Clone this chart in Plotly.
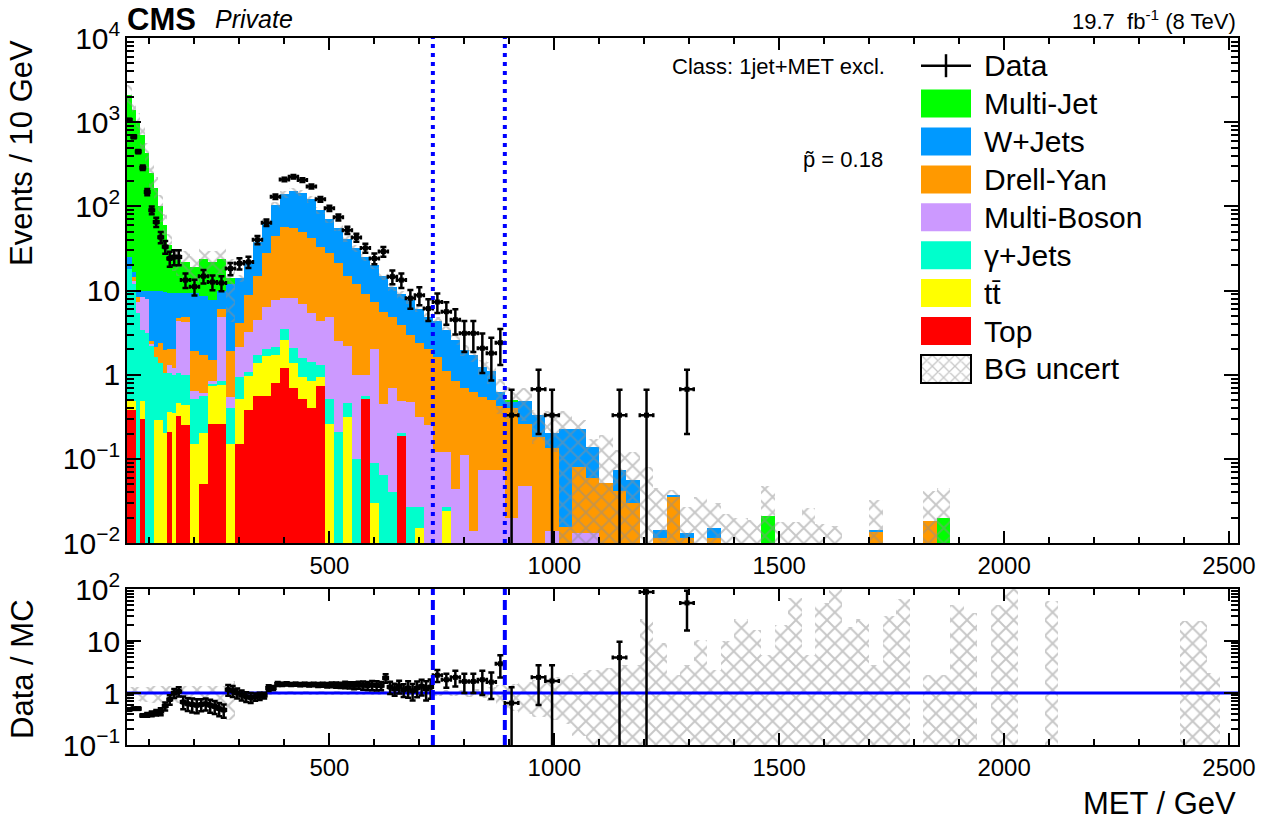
import numpy as np
import plotly.graph_objects as go

# ---------------- layout helpers (pixel -> paper) ----------------
W, H = 1279, 821
ML, MR, MT, MB = 127, 41, 38, 76
PW, PH = W - ML - MR, H - MT - MB


def px(x):
    return (x - ML) / PW


def py(y):
    return (H - MB - y) / PH


# ---------------- binning ----------------
edges = np.array(list(range(50, 170, 10)) + list(range(170, 890, 20)) + list(range(890, 2511, 30)), float)
centers = 0.5 * (edges[:-1] + edges[1:])
widths = edges[1:] - edges[:-1]

# ---------------- MC processes (events / 10 GeV) ----------------
# low-MET region: 12 bins of 10 GeV (50-170) + 36 bins of 20 GeV (170-890)
top_low = [0.38, 0.38, 0, 0.30, 0, 0, 0, 0, 0, 0.21, 0, 0.32,
           0.25, 0, 0.05, 0.26, 0.26, 0, 0.15, 0.38, 0.56, 0.56,
           0.79, 1.19, 0.69, 0.51, 0.40, 0.73, 0, 0, 0, 0,
           0.51, 0, 0, 0, 0.19, 0, 0, 0, 0, 0,
           0, 0, 0, 0, 0, 0]
ttbar_low = [0.10, 0.10, 0, 0.18, 0, 0, 0.29, 0.29, 0.2, 0.15, 0.35, 0.14,
             0.19, 0.15, 0.15, 0.49, 0.49, 0.15, 0.37, 0.58, 0.8, 1.11,
             0.91, 1.41, 0.67, 0.44, 0.43, 0.2, 0.26, 0, 0.31, 0,
             0, 0.03, 0, 0, 0, 0, 0.015, 0, 0, 0.024,
             0, 0, 0, 0, 0, 0]
gjets_low = [17.5, 11.5, 5.4, 2.9, 3.1, 2.2, 1.35, 1.07, 0.84, 0.68, 0.65, 0.58,
             0.56, 0.37, 0.37, 0.03, 0.08, 0.25, 0.43, 0.13, 0.34, 0.33,
             0.45, 0.85, 0.7, 0.61, 0.57, 0.37, 0.26, 0.21, 0.15, 0.1,
             0.05, 0.06, 0.065, 0.04, 0.01, 0.027, 0.012, 0, 0, 0.003,
             0, 0, 0, 0, 0, 0]
mboson_low = [0, 1, 2.0, 5.0, 4.9, 0.1, 0, 0, 0, 0.26, 0.2, 3.26,
              3.27, 0.12, 0.03, 0.07, 4.07, 0.15, 1.2, 2.15, 2.8, 4.4,
              5.55, 4.65, 6.04, 5.34, 4.0, 3.0, 4.38, 2.29, 1.74, 0.9,
              0.44, 1.91, 0.385, 0.66, 0.28, 0.45, 0.29, 0.25, 0.12, 0.093,
              0.044, 0.11, 0.014, 0.074, 0.074, 0.074]
dy_low = [0, 1.5, 1.0, 0, 0, 0.2, 0.5, 1.0, 0.92, 0.7, 0.8, 0.4,
          0.53, 1.26, 1.1, 0.65, 1.2, 1.35, 1.95, 5.66, 10.5, 21.6,
          37.3, 48.9, 47.9, 43.1, 36.6, 28.7, 23.1, 18.5, 12.8, 11,
          8.2, 5.4, 5.15, 4.2, 3.42, 2.52, 2.04, 1.75, 1.52, 0.98,
          0.806, 0.59, 0.606, 0.476, 0.426, 0.346]
wjets_low = [7, 2.2, 1.6, 1.6, 2.0, 7.5, 7.85, 7.6, 7.7, 7.3, 7.3, 4.6,
             4.5, 7.4, 6.8, 6.2, 3.9, 10.1, 9.9, 12.1, 23, 38,
             59, 83, 96, 95, 80, 57, 42, 34, 26, 20,
             15.8, 12.6, 9.4, 6.1, 5.1, 4.7, 3.74, 2.9, 2.66, 2.3,
             1.75, 1.26, 1.08, 0.69, 0.6, 0.2]
mjet_low = [2075, 1383, 990, 690, 420, 240, 155, 90, 50, 25.7, 16.7, 13.7,
            12.7, 9.7, 15.5, 14.3, 14, 2, 0, 0, 0, 0,
            0, 0, 0, 0, 0, 0, 0, 0, 0, 0,
            0, 0, 0, 0, 0, 0, 0, 0, 0, 0,
            0, 0, 0, 0, 0, 0]
# high-MET region: 54 bins of 30 GeV (890-2510)
top_high = [0] * 54
ttbar_high = [0] * 54
gjets_high = [0] * 54
mboson_high = [0.02, 0.047, 0, 0.014, 0, 0.013, 0.013] + [0] * 47
dy_high = ([0.38, 0.213, 0.18, 0.119, 0.0156, 0.068, 0.046, 0.051, 0.041, 0.0296,
            0, 0.0114, 0.036, 0.0114, 0, 0.0114] + [0] * 11 + [0.0136] + [0] * 3
           + [0.0183] + [0] * 22)
wjets_high = ([0.08, 0.22, 0.15, 0.067, 0.208, 0.143, 0.078, 0, 0.033, 0.026,
               0, 0.003, 0.0015, 0.0016, 0, 0.0035] + [0] * 11 + [0.0007] + [0] * 26)
mjet_high = [0.01] + [0] * 18 + [0.0211] + [0] * 12 + [0.02] + [0] * 21

# relative background uncertainty (low-MET bins)
unc_low = [0.3, 0.3, 0.3, 0.32, 0.33, 0.35, 0.35, 0.35, 0.35, 0.35, 0.35, 0.35,
           0.35, 0.35, 0.35, 0.35, 0.35, 0.7,
           0.1, 0.09, 0.1, 0.08, 0.09, 0.1, 0.09, 0.08, 0.09, 0.1, 0.09,
           0.08, 0.09, 0.1, 0.1, 0.09, 0.1, 0.1, 0.11, 0.1, 0.1, 0.11,
           0.12, 0.13, 0.14, 0.15, 0.17, 0.2, 0.3, 0.45]
# background uncertainty band edges in the high-MET bins (events / 10 GeV)
band_top_high = [0.72, 0.69, 0.38, 0.37, 0.37, 0.29, 0.17, 0.19, 0.127, 0.121,
                 0.081, 0.045, 0.043, 0.027, 0.035, 0.03, 0.022, 0.02, 0.019, 0.047,
                 0.018, 0.018, 0.026, 0.017, 0.016, 0, 0, 0.032, 0, 0,
                 0, 0.041, 0.045] + [0] * 21
band_bot_high = [0.3, 0.28, 0.15, 0.12] + [0] * 50

# ---------------- data (events / 10 GeV) ----------------
data_low = [1060, 671, 447, 288, 148, 90, 65, 43, 33, 24, 25, 25,
            13.3, 11.1, 14.8, 12.6, 12.3, 18.2, 21, 21.8, 40, 64,
            130, 209, 225, 205, 172, 121, 95, 74, 52, 42.6,
            32, 24, 29, 14.6, 13.3, 8.1, 8.8, 6.1, 7.3, 5.6,
            4.5, 3.1, 3.1, 2.06, 1.8, 2.4]
data_high = ([0.33, 0, 0.67, 0.33, 0, 0, 0, 0, 0.33, 0, 0.33, 0, 0, 0.67] + [0] * 40)

# ---------------- ratio panel ----------------
ratio_x = ([55, 65, 75, 85, 95, 105, 115, 125, 135, 145, 155, 165, 175, 185, 195, 205,
            215, 225, 235, 245, 255, 265, 275, 285, 295, 305, 315, 325, 335, 345, 355,
            365, 375, 385, 395, 405, 415, 425, 435, 445, 455, 465, 475, 485, 495, 505,
            515, 525, 535, 545, 555, 565, 575, 585, 595, 605, 615, 625, 635, 645, 655,
            665, 675, 685, 695, 705, 715, 725]
           + [740, 760, 780, 800, 820, 840, 860, 880]
           + [905, 965, 995, 1145, 1205, 1295])
ratio_w = [10] * 68 + [20] * 8 + [30] * 6
ratio_y = [0.48, 0.5, 0.5, 0.37, 0.38, 0.40, 0.42, 0.44, 0.56, 0.75,
           1.0, 1.07, 0.67, 0.62, 0.6, 0.58, 0.6, 0.62, 0.58, 0.55,
           0.5, 0.47, 1.16, 1.1, 1.0, 0.92, 0.85, 0.82, 0.84, 0.87,
           0.9, 1.25, 1.25, 1.49, 1.47, 1.5, 1.46, 1.48, 1.45, 1.47,
           1.44, 1.46, 1.43, 1.45, 1.42, 1.44, 1.43, 1.41, 1.44, 1.42,
           1.40, 1.43, 1.41, 1.39, 1.42, 1.40, 1.38, 1.94, 1.3, 1.2,
           1.35, 1.15, 1.25, 1.1, 1.25, 1.35, 1.2, 1.3,
           2.2, 1.8, 2.0, 1.67, 1.67, 1.8, 1.62, 3.65,
           0.64, 2.0, 1.7, 4.8, 88, 54]
ratio_band_lo_high = [0.45, 0.4, 0.35, 0.3, 0.25, 0.15] + [0] * 48
ratio_band_hi_high = [1.5, 1.6, 1.8, 2.0, 2.2, 2.4, 2.8, 3.0, 3.5, 3.5,
                      26, 9.2, 2.25, 3.5, 10.6, 2.8, 9.9, 26, 16.6, 5.5,
                      20.7, 67, 5.5, 54, 98, 19, 26, 3.5, 30, 63,
                      0, 2.25, 2.25, 50, 35, 0, 50, 98, 0, 0,
                      60, 0, 0, 0, 0, 0, 0, 0, 0, 0,
                      24, 24, 2.4, 0]

roi_edges = [730, 890]

processes = [
    ("Top", top_low + top_high, "#ff0000"),
    ("tt\u0304", ttbar_low + ttbar_high, "#ffff00"),
    ("\u03b3+Jets", gjets_low + gjets_high, "#00ffcc"),
    ("Multi-Boson", mboson_low + mboson_high, "#cc99ff"),
    ("Drell-Yan", dy_low + dy_high, "#ff9900"),
    ("W+Jets", wjets_low + wjets_high, "#0099ff"),
    ("Multi-Jet", mjet_low + mjet_high, "#00ff00"),
]

FLOOR = 1e-5
fig = go.Figure()

# stacked MC
base = np.full(len(centers), FLOOR)
for name, vals, col in processes:
    v = np.array(vals, float)
    fig.add_trace(go.Bar(x=centers, y=v, base=base.copy(), width=widths,
                         marker=dict(color=col, line=dict(width=0)),
                         xaxis="x", yaxis="y", hoverinfo="skip", showlegend=False))
    base = base + v
total = base - FLOOR

# uncertainty band (main panel)
nlow = len(unc_low)
u = np.array(unc_low)
band_hi = np.concatenate([total[:nlow] * (1 + u), np.array(band_top_high)])
band_lo = np.concatenate([total[:nlow] * (1 - u), np.array(band_bot_high)])
mask = band_hi > 0
blo = np.maximum(band_lo, FLOOR)
hatch = dict(shape="x", fgcolor="#8f8f8f", bgcolor="rgba(0,0,0,0)", size=11, solidity=0.32,
             fillmode="overlay")
fig.add_trace(go.Bar(x=centers[mask], y=(band_hi - blo)[mask], base=blo[mask], width=widths[mask],
                     marker=dict(color="rgba(0,0,0,0)", pattern=hatch, line=dict(width=0)),
                     xaxis="x", yaxis="y", hoverinfo="skip", showlegend=False))

# data points (main panel)
data_all = np.array(data_low + data_high, float)
dm = data_all > 0
N = data_all * widths / 10.0
derr = np.sqrt(N) * 10.0 / widths
derr_minus = np.minimum(derr, 0.999 * data_all)
fig.add_trace(go.Scatter(x=centers[dm], y=data_all[dm], mode="markers",
                         marker=dict(symbol="square", size=5, color="black"),
                         error_y=dict(type="data", array=derr[dm], arrayminus=derr_minus[dm],
                                      color="black", thickness=2.5, width=3),
                         error_x=dict(type="data", array=widths[dm] / 2, color="black",
                                      thickness=2.5, width=2),
                         xaxis="x", yaxis="y", hoverinfo="skip", showlegend=False))

# ---------------- ratio panel ----------------
fig.add_trace(go.Scatter(x=[50, 2520], y=[1, 1], mode="lines", line=dict(color="#0000ff", width=3),
                         xaxis="x2", yaxis="y2", hoverinfo="skip", showlegend=False))
rb_hi = np.concatenate([1 + u, np.array(ratio_band_hi_high)])
rb_lo = np.concatenate([1 - u, np.array(ratio_band_lo_high)])
rmask = rb_hi > 0
rblo = np.maximum(rb_lo, 1e-3)
fig.add_trace(go.Bar(x=centers[rmask], y=(rb_hi - rblo)[rmask], base=rblo[rmask], width=widths[rmask],
                     marker=dict(color="rgba(0,0,0,0)", pattern=hatch, line=dict(width=0)),
                     xaxis="x2", yaxis="y2", hoverinfo="skip", showlegend=False))

rx = np.array(ratio_x, float)
rw = np.array(ratio_w, float)
ry = np.array(ratio_y, float)
idx = np.searchsorted(edges, rx, side="right") - 1
Nr = data_all[idx] * rw / 10.0
rerr = ry / np.sqrt(Nr)
rerr_minus = np.minimum(rerr, 0.999 * ry)
fig.add_trace(go.Scatter(x=rx, y=ry, mode="markers",
                         marker=dict(symbol="square", size=5, color="black"),
                         error_y=dict(type="data", array=rerr, arrayminus=rerr_minus,
                                      color="black", thickness=2.5, width=3),
                         error_x=dict(type="data", array=rw / 2, color="black", thickness=2.5, width=2),
                         xaxis="x2", yaxis="y2", hoverinfo="skip", showlegend=False))

# ---------------- ROI dashed lines ----------------
shapes = []
for xv in roi_edges:
    shapes.append(dict(type="line", xref="x", yref="y domain", x0=xv, x1=xv, y0=0, y1=1,
                       line=dict(color="#0000ff", width=4, dash="4px,5px")))
    shapes.append(dict(type="line", xref="x2", yref="y2 domain", x0=xv, x1=xv, y0=0, y1=1,
                       line=dict(color="#0000ff", width=4, dash="10px,5px")))

# ---------------- legend (drawn manually) ----------------
leg_x0, leg_x1 = 921, 971
row_h = 37.9
row0 = 65.7
leg_font = 30
annotations = []
# Data entry
shapes.append(dict(type="line", xref="paper", yref="paper", x0=px(leg_x0), x1=px(leg_x1),
                   y0=py(row0), y1=py(row0), line=dict(color="black", width=2.5)))
shapes.append(dict(type="line", xref="paper", yref="paper", x0=px(946), x1=px(946),
                   y0=py(row0 - 11.5), y1=py(row0 + 11.5), line=dict(color="black", width=2.5)))
annotations.append(dict(text="Data", x=px(982), y=py(row0), xref="paper", yref="paper",
                        xanchor="left", yanchor="middle", showarrow=False, font=dict(size=leg_font)))
legend_order = ["Multi-Jet", "W+Jets", "Drell-Yan", "Multi-Boson", "\u03b3+Jets", "tt\u0304", "Top"]
colmap = {n: c for n, _, c in processes}
for i, name in enumerate(legend_order):
    yc = row0 + (i + 1) * row_h
    shapes.append(dict(type="rect", xref="paper", yref="paper", x0=px(leg_x0), x1=px(leg_x1),
                       y0=py(yc + 14), y1=py(yc - 14), fillcolor=colmap[name], line=dict(width=0)))
    annotations.append(dict(text=name, x=px(982), y=py(yc), xref="paper", yref="paper",
                            xanchor="left", yanchor="middle", showarrow=False, font=dict(size=leg_font)))
yc_bg = row0 + 8 * row_h
shapes.append(dict(type="rect", xref="paper", yref="paper", x0=px(leg_x0), x1=px(leg_x1),
                   y0=py(yc_bg + 14), y1=py(yc_bg - 14), line=dict(color="black", width=2),
                   fillcolor="rgba(0,0,0,0)", layer="above"))
annotations.append(dict(text="BG uncert", x=px(982), y=py(yc_bg), xref="paper", yref="paper",
                        xanchor="left", yanchor="middle", showarrow=False, font=dict(size=leg_font)))
fig.add_trace(go.Bar(x=[0.5], y=[1], base=[0], width=[1],
                     marker=dict(color="rgba(0,0,0,0)", line=dict(width=0),
                                 pattern=dict(shape="x", fgcolor="#8f8f8f", bgcolor="rgba(0,0,0,0)",
                                              size=8, solidity=0.3, fillmode="overlay")),
                     xaxis="x3", yaxis="y3", hoverinfo="skip", showlegend=False))

# ---------------- texts ----------------
def add_text(text, x, y, size, xanchor="left", angle=0):
    annotations.append(dict(text=text, x=px(x), y=py(y), xref="paper", yref="paper",
                            xanchor=xanchor, yanchor="middle", showarrow=False,
                            textangle=angle, font=dict(size=size)))


add_text("<b>CMS</b>", 125, 19, 31)
add_text("<i>Private</i>", 213, 19, 25)
add_text("19.7  fb<sup>-1</sup> (8 TeV)", 1238, 20, 22, xanchor="right")
add_text("Class: 1jet+MET excl.", 887, 66, 22, xanchor="right")
add_text("p\u0303 = 0.18", 885, 160, 22, xanchor="right")
add_text("Events / 10 GeV", 22, 153, 31, xanchor="center", angle=-90)
add_text("Data / MC", 22, 669, 31, xanchor="center", angle=-90)
add_text("MET / GeV", 1238, 803, 31, xanchor="right")

# ---------------- axes ----------------
axis_common = dict(showline=True, linecolor="black", linewidth=2, mirror="allticks",
                   ticks="inside", tickcolor="black", showgrid=False, zeroline=False,
                   tickfont=dict(size=24))
xcommon = dict(axis_common, range=[50, 2520], tick0=0, dtick=500, ticklen=12, tickwidth=2,
               exponentformat="none",
               minor=dict(ticks="inside", ticklen=6, tickwidth=1.5, tick0=0, dtick=100,
                          tickcolor="black", showgrid=False))
ycommon = dict(axis_common, type="log", dtick=1, exponentformat="power", ticklen=14, tickwidth=2,
               minor=dict(ticks="inside", ticklen=7, tickwidth=1.5, dtick="D1",
                          tickcolor="black", showgrid=False))

fig.update_layout(
    width=W, height=H,
    margin=dict(l=ML, r=MR, t=MT, b=MB),
    paper_bgcolor="white", plot_bgcolor="white",
    barmode="overlay", bargap=0, showlegend=False,
    font=dict(family="Liberation Sans, Arial, sans-serif", color="black", size=24),
    xaxis=dict(xcommon, anchor="y", domain=[0, 1]),
    yaxis=dict(ycommon, range=[-2, 4], anchor="x", domain=[py(543), 1]),
    xaxis2=dict(xcommon, anchor="y2", domain=[0, 1]),
    yaxis2=dict(ycommon, range=[-1, 2], anchor="x2", domain=[0, py(589)]),
    xaxis3=dict(domain=[px(leg_x0), px(leg_x1)], range=[0, 1], visible=False, anchor="y3",
                fixedrange=True),
    yaxis3=dict(domain=[py(yc_bg + 14), py(yc_bg - 14)], range=[0, 1], visible=False, anchor="x3",
                fixedrange=True),
    shapes=shapes,
    annotations=annotations,
)

fig.write_html("out.html")
